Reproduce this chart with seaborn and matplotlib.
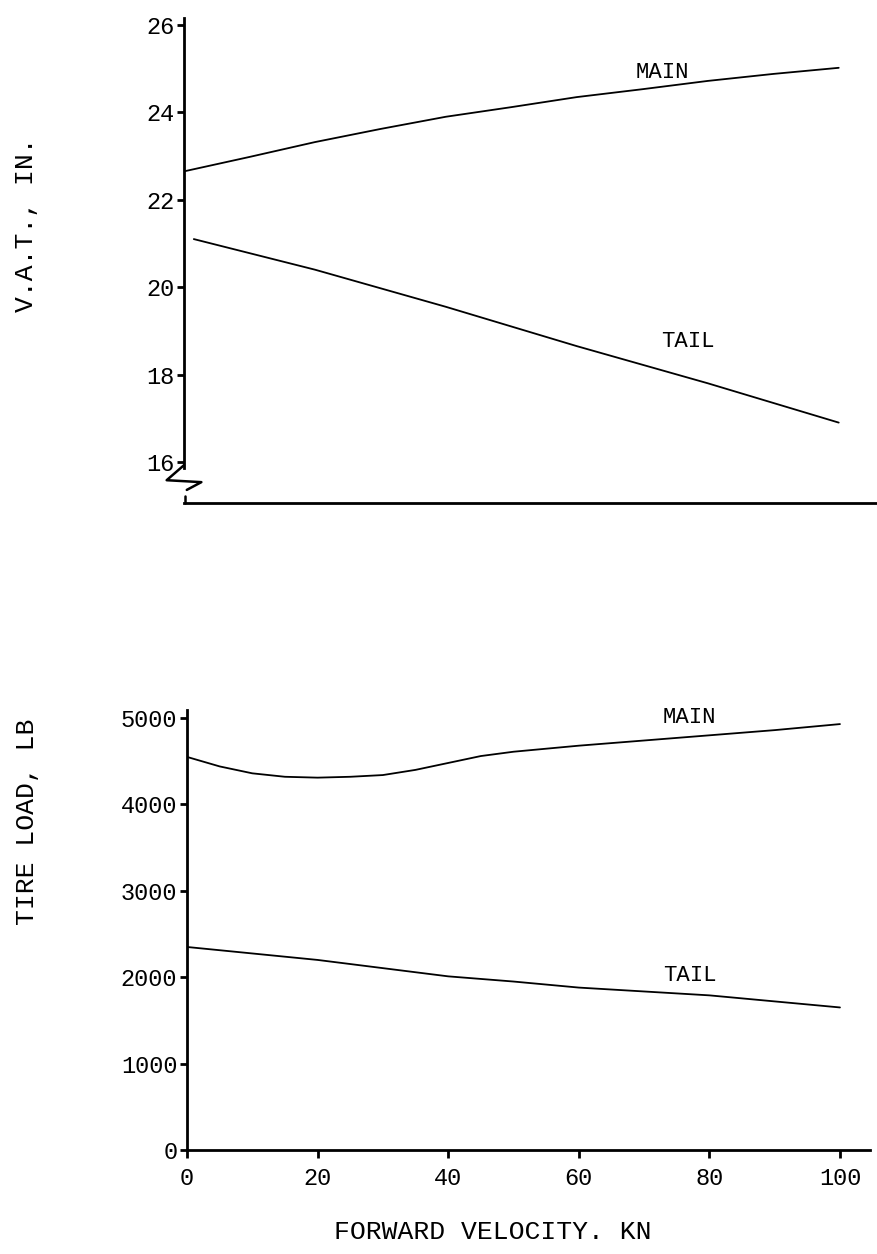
import matplotlib
matplotlib.use("Agg")
import matplotlib.pyplot as plt
import seaborn as sns
import pandas as pd

# values
vat_main_x = [0, 10, 20, 30, 40, 50, 60, 70, 80, 90, 100]
vat_main_y = [22.65, 22.98, 23.32, 23.62, 23.90, 24.12, 24.35, 24.53, 24.72, 24.88, 25.02]
vat_tail_x = [1.5, 20, 40, 60, 80, 100]
vat_tail_y = [21.1, 20.4, 19.55, 18.65, 17.8, 16.9]

load_main_x = [0, 5, 10, 15, 20, 25, 30, 35, 40, 45, 50, 60, 70, 80, 90, 100]
load_main_y = [4550, 4440, 4360, 4320, 4310, 4320, 4340, 4400, 4480, 4560, 4610,
               4680, 4740, 4800, 4860, 4930]
load_tail_x = [0, 20, 40, 50, 60, 80, 100]
load_tail_y = [2350, 2200, 2010, 1950, 1880, 1790, 1650]

vat_ticks = [16, 18, 20, 22, 24, 26]
load_ticks = [0, 1000, 2000, 3000, 4000, 5000]
vel_ticks = [0, 20, 40, 60, 80, 100]

sns.set_style("ticks")
plt.rcParams['font.family'] = ['Liberation Mono', 'DejaVu Sans Mono']
for k in ["text.color", "axes.edgecolor", "xtick.color", "ytick.color",
          "axes.labelcolor", "xtick.labelcolor", "ytick.labelcolor"]:
    plt.rcParams[k] = "black"

W, H = 878, 1254
fig = plt.figure(figsize=(W / 100, H / 100), dpi=100)

def box(l, t, r, b):
    return [l / W, 1 - b / H, (r - l) / W, (b - t) / H]

top = fig.add_axes(box(184, 18, 878, 503))
bot = fig.add_axes(box(187, 710, 870, 1150))

vat = pd.concat([
    pd.DataFrame({"v": vat_main_x, "y": vat_main_y, "gear": "MAIN"}),
    pd.DataFrame({"v": vat_tail_x, "y": vat_tail_y, "gear": "TAIL"}),
])
load = pd.concat([
    pd.DataFrame({"v": load_main_x, "y": load_main_y, "gear": "MAIN"}),
    pd.DataFrame({"v": load_tail_x, "y": load_tail_y, "gear": "TAIL"}),
])

pal = {"MAIN": "black", "TAIL": "black"}
sns.lineplot(data=vat, x="v", y="y", hue="gear", palette=pal, lw=1.3,
             ax=top, legend=False, sort=True, estimator=None)
sns.lineplot(data=load, x="v", y="y", hue="gear", palette=pal, lw=1.3,
             ax=bot, legend=False, sort=True, estimator=None)

# top panel: broken y axis
top.set_xlim(0, 106)
top.set_ylim(15.06, 26.16)
top.set_yticks(vat_ticks)
top.set_xticks([])
top.spines[["top", "right"]].set_visible(False)
top.spines["left"].set_bounds(15.85, 26.16)
top.spines["left"].set_linewidth(2.0)
top.spines["bottom"].set_linewidth(2.0)
top.tick_params(axis="y", direction="out", length=5, width=2, pad=2, labelsize=17)
top.set_xlabel("")
top.set_ylabel("")
# zig-zag break mark
top.plot([0.0, -0.025, 0.025, 0.004], [0.078, 0.047, 0.043, 0.027],
         transform=top.transAxes, color="black", lw=1.8, clip_on=False)
top.plot([0.002, 0.002], [0.014, 0.0], transform=top.transAxes,
         color="black", lw=1.8, clip_on=False)

top.text(73, 24.92, "MAIN", fontsize=16, ha="center", va="center")
top.text(77, 18.75, "TAIL", fontsize=16, ha="center", va="center")

# bottom panel
bot.set_xlim(0, 104.6)
bot.set_ylim(0, 5093)
bot.set_yticks(load_ticks)
bot.set_xticks(vel_ticks)
bot.spines[["top", "right"]].set_visible(False)
bot.spines["left"].set_linewidth(2.0)
bot.spines["bottom"].set_linewidth(2.0)
bot.tick_params(axis="y", direction="out", length=5, width=2, pad=2, labelsize=17)
bot.tick_params(axis="x", direction="out", length=6, width=2, pad=6, labelsize=17)
bot.set_xlabel("")
bot.set_ylabel("")
bot.text(77, 5010, "MAIN", fontsize=16, ha="center", va="center")
bot.text(77, 2025, "TAIL", fontsize=16, ha="center", va="center")

fig.text(26 / W, 1 - 225 / H, "V.A.T., IN.", rotation=90, fontsize=19,
         ha="center", va="center")
fig.text(27 / W, 1 - 822 / H, "TIRE LOAD, LB", rotation=90, fontsize=19,
         ha="center", va="center")
fig.text(493 / W, 1 - 1232 / H, "FORWARD VELOCITY. KN", fontsize=19,
         ha="center", va="center")

fig.savefig("out.png", dpi=100)
